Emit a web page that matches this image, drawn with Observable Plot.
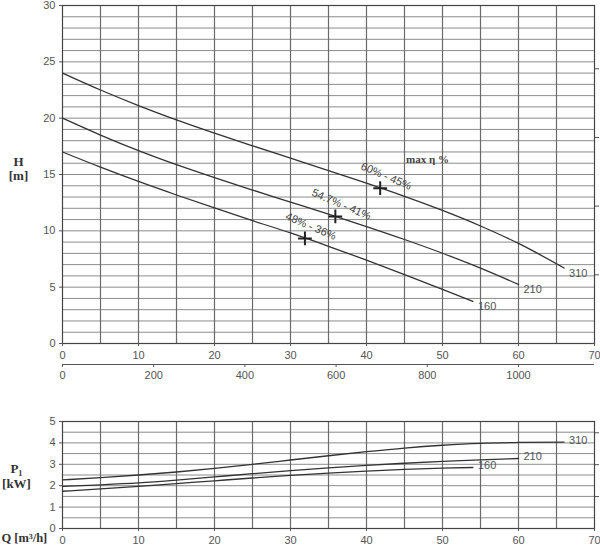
<!DOCTYPE html>
<html><head><meta charset="utf-8">
<script src="https://cdn.jsdelivr.net/npm/d3@7"></script>
<script src="https://cdn.jsdelivr.net/npm/@observablehq/plot@0.6"></script>
<style>
body{margin:0;background:#fff;}
#chart{width:600px;}
#chart svg{display:block;}
</style></head><body><div id="chart"></div>
<script>
// ---- Data: head curves H [m] vs Q [m3/h]
const q310 = [0,5,10,15,20,25,30,35,40,45,50,55,60,66];
const h310 = [24,22.5,21.12,19.85,18.67,17.55,16.45,15.35,14.23,13.06,11.81,10.43,8.88,6.7];
const q210 = [0,5,10,15,20,25,30,35,40,45,50,55,60];
const h210 = [20,18.5,17.12,15.87,14.72,13.62,12.55,11.48,10.38,9.23,8.01,6.69,5.24];
const q160 = [0,5,10,15,20,25,30,35,40,45,50,54];
const h160 = [17,15.65,14.38,13.18,12.03,10.91,9.81,8.63,7.4,6.12,4.8,3.73];
// ---- Data: power curves P1 [kW] vs Q
const pq310 = [0,5,10,15,20,25,30,35,40,45,50,55,60,66];
const p310 = [2.27,2.38,2.5,2.64,2.81,3.0,3.2,3.4,3.59,3.76,3.89,3.98,4.02,4.04];
const pq210 = [0,5,10,15,20,25,30,35,40,45,50,55,60];
const p210 = [1.97,2.04,2.13,2.26,2.41,2.56,2.7,2.83,2.95,3.05,3.14,3.21,3.27];
const pq160 = [0,5,10,15,20,25,30,35,40,45,50,54];
const p160 = [1.74,1.85,1.97,2.1,2.23,2.36,2.48,2.59,2.68,2.76,2.82,2.85];
const seriesNames = ["310","210","160"];
// ---- Best efficiency points
const effQ = [41.8,35.9,31.9];
const effH = [13.78,11.28,9.33];
const effLabels = ["60% - 45%","54.7% - 41%","48% - 36%"];
// ---- Tick labels
const qTicks = [0,10,20,30,40,50,60,70];
const hTicks = [0,5,10,15,20,25,30];
const pTicks = [0,1,2,3,4,5];
const lminTicks = [0,200,400,600,800,1000];
const ftTicks = [20,40,60,80];
const hpTicks = [2,4,6];

const toRows = (qs, vs, name) => qs.map((q,i)=>({q, v: vs[i], name}));
const hRows = [toRows(q310,h310,seriesNames[0]), toRows(q210,h210,seriesNames[1]), toRows(q160,h160,seriesNames[2])];
const pRows = [toRows(pq310,p310,seriesNames[0]), toRows(pq210,p210,seriesNames[1]), toRows(pq160,p160,seriesNames[2])];
const effRows = effQ.map((q,i)=>({q, v: effH[i], label: effLabels[i]}));

const sans = "Liberation Sans, Arial, sans-serif";
const serif = "Liberation Serif, Times New Roman, serif";
const gridH = "#8c8c8c", gridV = "#6a6a6a", lineC = "#333", textC = "#555";

const headChart = Plot.plot({
  width: 600, height: 392,
  marginTop: 5, marginLeft: 62, marginRight: 6, marginBottom: 49,
  style: {fontFamily: sans, fontSize: "11px", color: textC, background: "#fff"},
  x: {domain: [0,70]},
  y: {domain: [0,30]},
  marks: [
    Plot.ruleY(d3.range(1,30), {stroke: gridH, strokeWidth: 1}),
    Plot.ruleX(d3.range(5,70,5), {stroke: gridV, strokeWidth: 1.2}),
    Plot.frame({stroke: "#444", strokeWidth: 1.2}),
    Plot.axisY({ticks: hTicks, tickFormat: d3.format("d"), tickSize: 3, tickPadding: 4, label: null, fill: textC}),
    Plot.axisY({anchor: "right", ticks: ftTicks.map(f=>f*0.3048), tickFormat: () => "", tickSize: 4, label: null}),
    Plot.axisX({ticks: qTicks, tickFormat: d3.format("d"), tickSize: 3, tickPadding: 5, label: null, fill: textC}),
    Plot.ruleY([0], {dy: 21, stroke: "#555", strokeWidth: 1.2}),
    Plot.axisX({ticks: lminTicks.map(v=>v*60/1000), tickFormat: d => String(Math.round(d*1000/60)), dy: 21, tickSize: 3, tickPadding: 4, label: null, fill: textC}),
    ...hRows.map(rows => Plot.line(rows, {x: "q", y: "v", curve: "monotone-x", stroke: lineC, strokeWidth: 1.3})),
    ...hRows.map(rows => Plot.text([rows[rows.length-1]], {x: "q", y: "v", text: "name", textAnchor: "start", dx: 5, dy: 5, fill: textC})),
    Plot.dot(effRows, {x: "q", y: "v", symbol: "plus", r: 4.5, stroke: "#222", strokeWidth: 2}),
    Plot.text(effRows, {x: "q", y: "v", text: "label", rotate: 23, dx: 6, dy: -12, fill: "#444"}),
    Plot.text(["max η %"], {x: 45.2, y: 16.3, textAnchor: "start", fontFamily: serif, fontSize: 11, fontWeight: "bold", fill: "#444"}),
    Plot.text(["H\n[m]"], {frameAnchor: "left", dx: -44, dy: -6, textAnchor: "middle", fontFamily: serif, fontSize: 13, fontWeight: "bold", lineHeight: 1.1, fill: "#333"})
  ]
});

const powerChart = Plot.plot({
  width: 600, height: 155,
  marginTop: 29, marginLeft: 62, marginRight: 6, marginBottom: 19,
  style: {fontFamily: sans, fontSize: "11px", color: textC, background: "#fff"},
  x: {domain: [0,70]},
  y: {domain: [0,5]},
  marks: [
    Plot.ruleY(d3.range(0.5,5,0.5), {stroke: gridH, strokeWidth: 1}),
    Plot.ruleX(d3.range(5,70,5), {stroke: gridV, strokeWidth: 1.2}),
    Plot.frame({stroke: "#444", strokeWidth: 1.2}),
    Plot.axisY({ticks: pTicks, tickFormat: d3.format("d"), tickSize: 3, tickPadding: 4, label: null, fill: textC}),
    Plot.axisY({anchor: "right", ticks: hpTicks.map(h=>h*0.7457), tickFormat: () => "", tickSize: 4, label: null}),
    Plot.axisX({ticks: qTicks, tickFormat: d3.format("d"), tickSize: 3, tickPadding: 5, label: null, fill: textC}),
    ...pRows.map(rows => Plot.line(rows, {x: "q", y: "v", curve: "monotone-x", stroke: lineC, strokeWidth: 1.3})),
    ...pRows.map(rows => Plot.text([rows[rows.length-1]], {x: "q", y: "v", text: "name", textAnchor: "start", dx: 5, dy: -2, fill: textC})),
    Plot.text(["P₁\n[kW]"], {frameAnchor: "left", dx: -46, dy: 1, textAnchor: "middle", fontFamily: serif, fontSize: 13, fontWeight: "bold", lineHeight: 1.15, fill: "#333"}),
    Plot.text(["Q [m³/h]"], {frameAnchor: "bottom-left", dx: -61, dy: 13, textAnchor: "start", fontFamily: serif, fontSize: 12.5, fontWeight: "bold", fill: "#333"})
  ]
});

document.getElementById("chart").append(headChart, powerChart);
</script></body></html>
